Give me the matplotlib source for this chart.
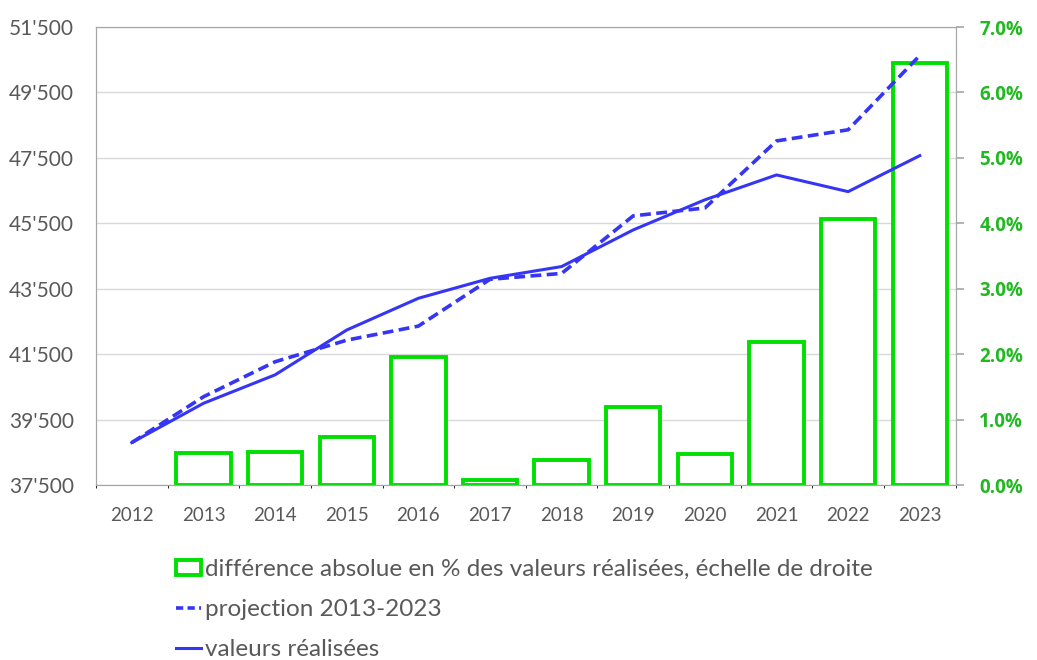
import matplotlib.pyplot as plt
import numpy as np
from matplotlib.patches import Patch
from matplotlib.lines import Line2D
from matplotlib.ticker import FuncFormatter, FixedLocator

plt.rcParams['font.family'] = ['Lato', 'DejaVu Sans']

years = ['2012', '2013', '2014', '2015', '2016', '2017', '2018', '2019', '2020', '2021', '2022', '2023']
realised = [38800, 40000, 40870, 42240, 43210, 43820, 44180, 45300, 46220, 46980, 46470, 47570]
projection = [38800, 40200, 41270, 41930, 42360, 43790, 43970, 45730, 45970, 48020, 48360, 50630]
# absolute difference in % of realised values (right axis), none for 2012
diff_pct = [np.nan, 0.49, 0.50, 0.74, 1.96, 0.08, 0.39, 1.19, 0.47, 2.18, 4.07, 6.45]
pct_ticks = [0, 1, 2, 3, 4, 5, 6, 7]

blue = '#3535F5'
green_bar = '#00E000'
green_txt = '#22B822'
grey_txt = '#595959'
grid_c = '#D9D9D9'
spine_c = '#A6A6A6'

fig = plt.figure(figsize=(10.37, 6.6), dpi=100)
ax = fig.add_subplot(111)
ax2 = ax.twinx()
fig.subplots_adjust(left=0.0926, right=0.9215, top=0.959, bottom=0.265)

x = np.arange(len(years))

# bars on the right axis, drawn beneath the lines
ax2.bar(x, diff_pct, width=0.76, facecolor='white', edgecolor=green_bar, linewidth=2.8)
ax2.set_ylim(0, 7)
ax2.set_yticks(pct_ticks)
ax2.set_yticklabels([f"{v:.1f}%" for v in pct_ticks], fontweight='bold',
                    family=['Open Sans', 'DejaVu Sans'], fontsize=13.5)
ax2.tick_params(axis='y', colors=spine_c, labelcolor=green_txt,
                length=6, width=1.2, pad=11)
ax2.grid(axis='y', color=grid_c, linewidth=1)
ax2.xaxis.set_minor_locator(FixedLocator(np.arange(-0.5, 12, 1)))
ax2.grid(axis='x', which='minor', color=grid_c, linewidth=1)
ax2.set_axisbelow(True)

ax.set_zorder(ax2.get_zorder() + 1)
ax.patch.set_visible(False)
ax2.patch.set_visible(True)
ax2.patch.set_facecolor('white')

ax.plot(x, projection, color=blue, linewidth=2.6, linestyle=(0, (3, 1.5)))
ax.plot(x, realised, color=blue, linewidth=2.2)
ax.set_xlim(-0.5, 11.5)
ax.set_ylim(37500, 51500)
ax.set_yticks(np.arange(37500, 51501, 2000))
ax.yaxis.set_major_formatter(FuncFormatter(lambda v, p: f"{v:,.0f}".replace(",", "'")))
ax.set_xticks(x)
ax.set_xticklabels(years)
ax.tick_params(axis='both', length=0, labelcolor=grey_txt, labelsize=14.5)
ax.tick_params(axis='x', pad=16, labelsize=13.5)
ax.tick_params(axis='y', pad=16, labelsize=15)

for a in (ax, ax2):
    for s in a.spines.values():
        s.set_color(spine_c)

handles = [
    Patch(facecolor='white', edgecolor=green_bar, linewidth=2.8),
    Line2D([0], [0], color=blue, linewidth=2.6, linestyle=(0, (2, 1.2))),
    Line2D([0], [0], color=blue, linewidth=2.2),
]
labels = [
    "différence absolue en % des valeurs réalisées, échelle de droite",
    "projection 2013-2023",
    "valeurs réalisées",
]
leg = fig.legend(handles, labels, loc='upper left', bbox_to_anchor=(0.160, 0.168),
                 frameon=False, fontsize=17.5, handlelength=1.05, handleheight=0.6,
                 handletextpad=0.15, labelspacing=0.78, borderaxespad=0)
for t in leg.get_texts():
    t.set_color(grey_txt)

fig.savefig('out.png', dpi=100)
